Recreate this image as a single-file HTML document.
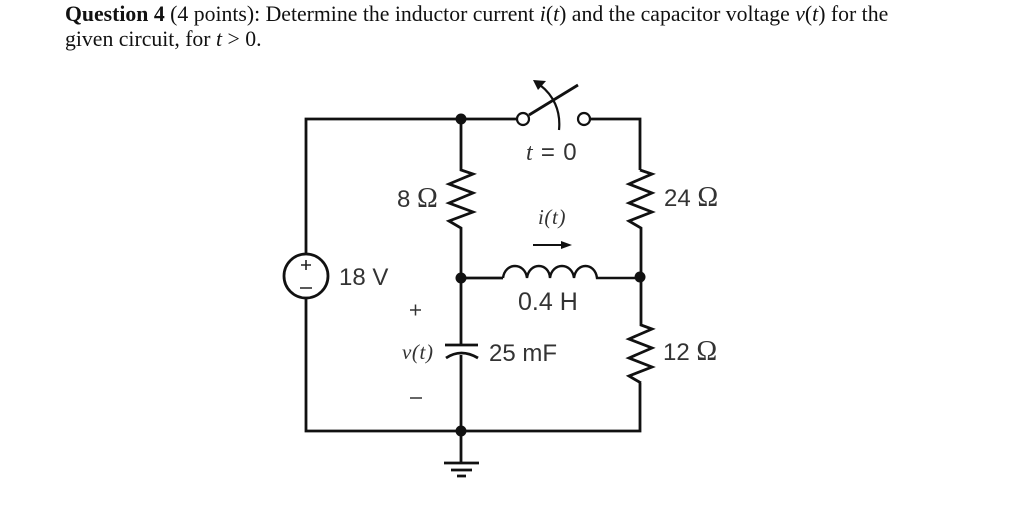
<!DOCTYPE html>
<html><head><meta charset="utf-8"><style>
html,body{margin:0;padding:0;background:#fff;width:1024px;height:505px;overflow:hidden}
svg{display:block;position:absolute;left:0;top:0}
.q{font-family:"Liberation Serif",serif;font-size:21.76px;fill:#111}
.l{font-family:"Liberation Sans",sans-serif;font-size:24px;fill:#333}
.o{font-family:"Liberation Serif",serif;font-size:28px}
.i{font-family:"Liberation Serif",serif;font-style:italic;font-size:21px;fill:#333;letter-spacing:.6px}
</style></head><body>
<svg width="1024" height="505" viewBox="0 0 1024 505" xmlns="http://www.w3.org/2000/svg">
<text class="q" x="65" y="21"><tspan font-weight="bold">Question 4</tspan> (4 points): Determine the inductor current <tspan font-style="italic">i</tspan>(<tspan font-style="italic">t</tspan>) and the capacitor voltage <tspan font-style="italic">v</tspan>(<tspan font-style="italic">t</tspan>) for the</text>
<text class="q" x="65" y="46">given circuit, for <tspan font-style="italic">t</tspan> &gt; 0.</text>
<g fill="none" stroke="#111" stroke-width="2.8" stroke-linejoin="miter">
<path d="M306 254V119H517"/>
<path d="M306 298V431H640V383"/>
<path d="M590 119H640V170"/>
<path d="M461 119V170L473 174L449 184L473 193L449 203L473 212L449 221L461 228V345"/>
<path d="M640 170L652 174L629 184L652 193L629 203L652 212L629 221L641 228V325L652 329L629 339L652 348L629 358L652 367L629 376L641 383"/>
<path d="M461 278H503"/>
<path d="M503 278C505 262 525 262 527 278C529 262 549 262 550 278C552 262 572 262 574 278C576 262 595 262 597 278H640" stroke-width="2.4"/>
<path d="M461 355V463"/>
<path d="M445 345H478"/>
<path d="M446 358Q461 348 478 358"/>
<path d="M444 463H479M451 470H472M457 476H466"/>
<circle cx="306" cy="276" r="22"/>
<circle cx="523" cy="119" r="6" stroke-width="2.2"/>
<circle cx="584" cy="119" r="6" stroke-width="2.2"/>
<path d="M529 115L578 85"/>
<path d="M559 130C561 110 553 95 540 85" stroke-width="2.2"/>
<path d="M533 245H562" stroke-width="2"/>
</g>
<path d="M533 80L546 81L538 90Z" fill="#111"/>
<path d="M561 241L572 245L561 249Z" fill="#111"/>
<g fill="#111">
<circle cx="461" cy="119" r="5.5"/><circle cx="461" cy="278" r="5.5"/><circle cx="640" cy="277" r="5.5"/><circle cx="461" cy="431" r="5.5"/>
</g>
<path d="M306 260V270M301 265H311M300 288H312" stroke="#222" stroke-width="1.6" fill="none"/>
<text class="l" x="339" y="285">18 V</text>
<text class="l" x="397" y="207">8 <tspan class="o">Ω</tspan></text>
<text class="l" x="664" y="206">24 <tspan class="o">Ω</tspan></text>
<text class="l" x="663" y="360">12 <tspan class="o">Ω</tspan></text>
<text class="l" x="518" y="310" font-size="25" style="font-size:25px">0.4 H</text>
<text class="l" x="489" y="361">25 mF</text>
<text class="l" x="526" y="160" style="letter-spacing:.8px"><tspan font-family="Liberation Serif" font-style="italic">t</tspan> = 0</text>
<text class="i" x="538" y="224">i(t)</text>
<text class="i" x="402" y="359">v(t)</text>
<path d="M410 310H421M415.5 304.5V315.5M410 398H422" stroke="#333" stroke-width="1.5" fill="none"/>
</svg>
</body></html>
